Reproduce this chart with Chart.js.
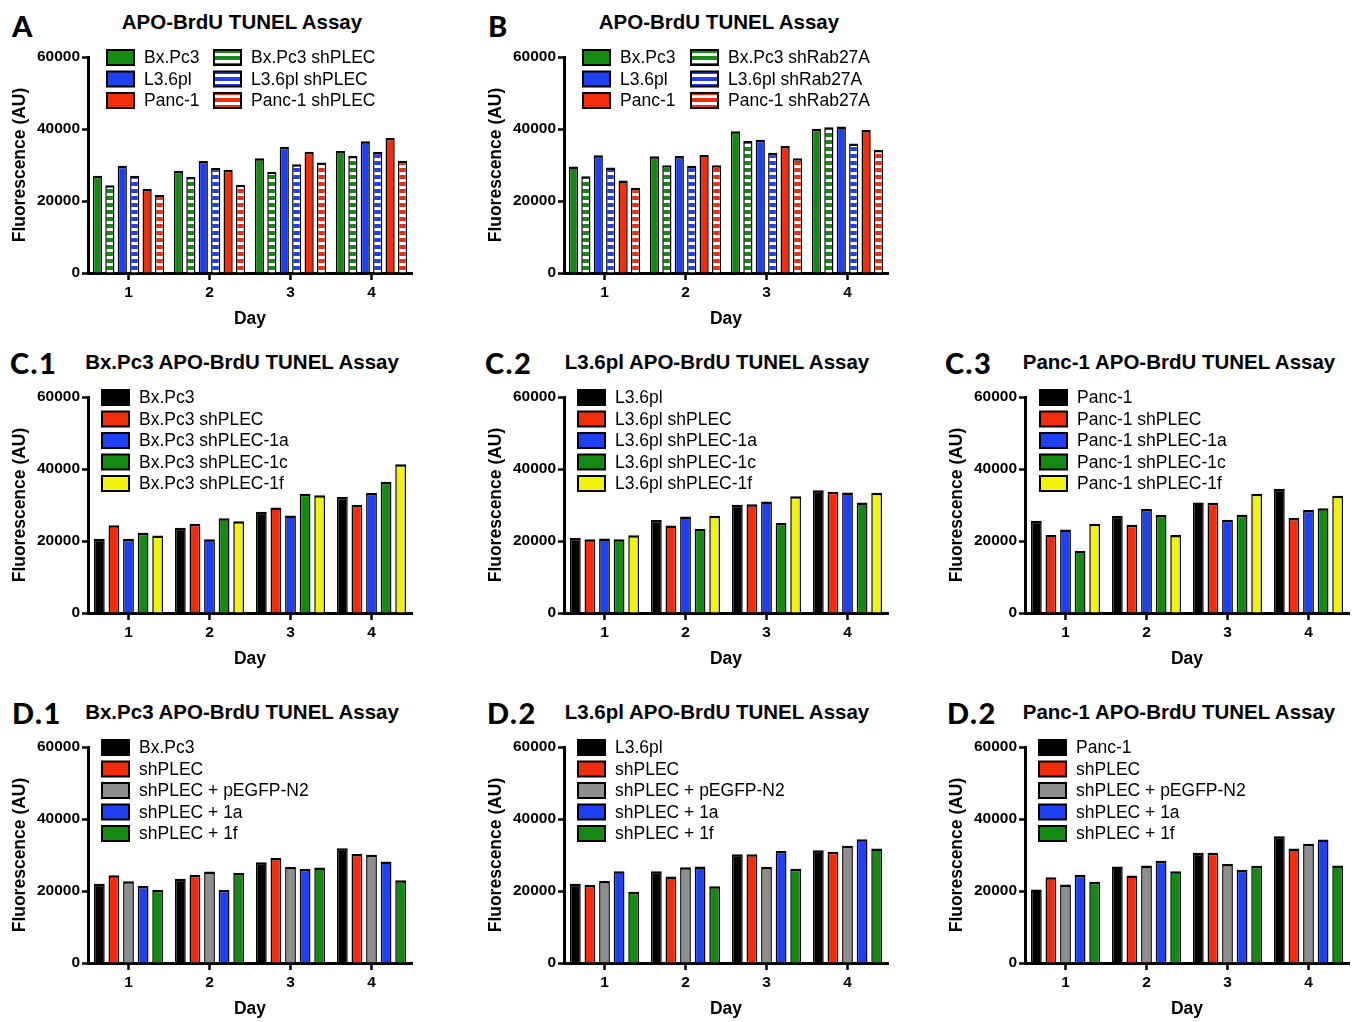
<!DOCTYPE html>
<html>
<head>
<meta charset="utf-8">
<script src="https://cdn.jsdelivr.net/npm/chart.js@4.4.0/dist/chart.umd.min.js"></script>
<style>
  body { margin: 0; background: #fff; width: 1362px; height: 1022px; position: relative; overflow: hidden;
         font-family: "Liberation Sans", Arial, sans-serif; }
  .letter { position: absolute; font-family: Lato, "Open Sans", sans-serif; font-weight: 900; font-size: 29px;
            letter-spacing: 1.5px; line-height: 1; transform: translateY(-50%); }
  .title { position: absolute; font-weight: 700; font-size: 20.5px; line-height: 1.15; white-space: nowrap;
           transform: translate(-50%, -50%); }
  canvas { position: absolute; }
</style>
</head>
<body>
<script>
const days = ['1', '2', '3', '4'];
const yTickValues = [0, 20000, 40000, 60000];

// A
const labelsA = ['Bx.Pc3', 'Bx.Pc3 shPLEC', 'L3.6pl', 'L3.6pl shPLEC', 'Panc-1', 'Panc-1 shPLEC'];
const valuesA = [
  [27000, 28300, 31900, 33900],
  [24400, 26700, 28100, 32500],
  [29800, 31100, 35100, 36600],
  [27000, 29200, 30200, 33600],
  [23300, 28700, 33700, 37500],
  [21700, 24500, 30700, 31200]
];

// B
const labelsB = ['Bx.Pc3', 'Bx.Pc3 shRab27A', 'L3.6pl', 'L3.6pl shRab27A', 'Panc-1', 'Panc-1 shRab27A'];
const valuesB = [
  [29600, 32400, 39400, 40100],
  [26900, 29900, 36700, 40500],
  [32700, 32500, 37000, 40700],
  [29300, 29800, 33400, 36000],
  [25700, 32800, 35300, 39700],
  [23700, 29900, 31900, 34200]
];

// C.1
const labelsC1 = ['Bx.Pc3', 'Bx.Pc3 shPLEC', 'Bx.Pc3 shPLEC-1a', 'Bx.Pc3 shPLEC-1c', 'Bx.Pc3 shPLEC-1f'];
const valuesC1 = [
  [20600, 23700, 28100, 32200],
  [24400, 24800, 29300, 30000],
  [20600, 20500, 27100, 33300],
  [22300, 26300, 33100, 36400],
  [21500, 25500, 32700, 41300]
];

// C.2
const labelsC2 = ['L3.6pl', 'L3.6pl shPLEC', 'L3.6pl shPLEC-1a', 'L3.6pl shPLEC-1c', 'L3.6pl shPLEC-1f'];
const valuesC2 = [
  [20800, 25800, 30100, 34100],
  [20500, 24300, 30200, 33700],
  [20700, 26800, 31000, 33500],
  [20500, 23300, 25000, 30700],
  [21600, 27000, 32400, 33400]
];

// C.3
const labelsC3 = ['Panc-1', 'Panc-1 shPLEC', 'Panc-1 shPLEC-1a', 'Panc-1 shPLEC-1c', 'Panc-1 shPLEC-1f'];
const valuesC3 = [
  [25600, 27000, 30700, 34500],
  [21700, 24500, 30600, 26400],
  [23200, 28900, 25900, 28600],
  [17200, 27200, 27300, 29100],
  [24800, 21700, 33100, 32600]
];

// D.1
const labelsD1 = ['Bx.Pc3', 'shPLEC', 'shPLEC + pEGFP-N2', 'shPLEC + 1a', 'shPLEC + 1f'];
const valuesD1 = [
  [22000, 23400, 28000, 31900],
  [24400, 24500, 29200, 30300],
  [22700, 25400, 26700, 30100],
  [21400, 20300, 26100, 28200],
  [20300, 25000, 26500, 23000]
];

// D.2 (L3.6pl)
const labelsD2 = ['L3.6pl', 'shPLEC', 'shPLEC + pEGFP-N2', 'shPLEC + 1a', 'shPLEC + 1f'];
const valuesD2 = [
  [22000, 25500, 30200, 31300],
  [21700, 24000, 30200, 30900],
  [22800, 26600, 26700, 32600],
  [25500, 26800, 31100, 34400],
  [19800, 21300, 26200, 31800]
];

// D.2 (Panc-1)
const labelsD3 = ['Panc-1', 'shPLEC', 'shPLEC + pEGFP-N2', 'shPLEC + 1a', 'shPLEC + 1f'];
const valuesD3 = [
  [20400, 26800, 30600, 35200],
  [23800, 24300, 30600, 31800],
  [21800, 27100, 27500, 33100],
  [24500, 28400, 25800, 34300],
  [22600, 25500, 27000, 27100]
];

const GREEN = '#138a12', BLUE = '#1e40f0', RED = '#f22d0c', YELLOW = '#f2f20c', GRAY = '#8e8e8e', BLACK = '#000000';

function stripes(color) {
  const c = document.createElement('canvas');
  c.width = 4; c.height = 7;
  const g = c.getContext('2d');
  g.fillStyle = color; g.fillRect(0, 0, 4, 7);
  g.fillStyle = '#fff'; g.fillRect(0, 2, 4, 3);
  return g.createPattern(c, 'repeat');
}

const fillsAB = [GREEN, stripes(GREEN), BLUE, stripes(BLUE), RED, stripes(RED)];
const fillsC = [BLACK, RED, BLUE, GREEN, YELLOW];
const fillsD = [BLACK, RED, GRAY, BLUE, GREEN];

const twoCols = { cols: [[0, 2, 4], [1, 3, 5]] };
const oneCol = { cols: [[0, 1, 2, 3, 4]] };

const panels = [
  { letter: 'A', lx: 12, ly: 25, title: 'APO-BrdU TUNEL Assay', tx: 242, ty: 22, ax: 88, ay: 57.3,
    labels: labelsA, values: valuesA, fills: fillsAB, legend: twoCols, colX: [19, 126] },
  { letter: 'B', lx: 488, ly: 25, title: 'APO-BrdU TUNEL Assay', tx: 719, ty: 22, ax: 564, ay: 57.3,
    labels: labelsB, values: valuesB, fills: fillsAB, legend: twoCols, colX: [19, 127] },
  { letter: 'C.1', lx: 10, ly: 362, title: 'Bx.Pc3 APO-BrdU TUNEL Assay', tx: 242, ty: 362, ax: 88, ay: 397.3,
    labels: labelsC1, values: valuesC1, fills: fillsC, legend: oneCol, colX: [14] },
  { letter: 'C.2', lx: 485, ly: 362, title: 'L3.6pl APO-BrdU TUNEL Assay', tx: 717, ty: 362, ax: 564, ay: 397.3,
    labels: labelsC2, values: valuesC2, fills: fillsC, legend: oneCol, colX: [14] },
  { letter: 'C.3', lx: 945, ly: 362, title: 'Panc-1 APO-BrdU TUNEL Assay', tx: 1179, ty: 362, ax: 1025, ay: 397.3,
    labels: labelsC3, values: valuesC3, fills: fillsC, legend: oneCol, colX: [15] },
  { letter: 'D.1', lx: 12, ly: 712, title: 'Bx.Pc3 APO-BrdU TUNEL Assay', tx: 242, ty: 712, ax: 88, ay: 747.3,
    labels: labelsD1, values: valuesD1, fills: fillsD, legend: oneCol, colX: [14] },
  { letter: 'D.2', lx: 487, ly: 712, title: 'L3.6pl APO-BrdU TUNEL Assay', tx: 717, ty: 712, ax: 564, ay: 747.3,
    labels: labelsD2, values: valuesD2, fills: fillsD, legend: oneCol, colX: [14] },
  { letter: 'D.2', lx: 947, ly: 712, title: 'Panc-1 APO-BrdU TUNEL Assay', tx: 1179, ty: 712, ax: 1025, ay: 747.3,
    labels: labelsD3, values: valuesD3, fills: fillsD, legend: oneCol, colX: [14] }
];

// legend drawn as boxes in columns, like the original figure
const boxLegend = {
  id: 'boxLegend',
  afterDraw(chart, args, opts) {
    const ctx = chart.ctx;
    const area = chart.chartArea;
    ctx.save();
    ctx.font = '17.5px "Liberation Sans", Arial, sans-serif';
    ctx.textBaseline = 'middle';
    opts.cols.forEach((idxs, c) => {
      idxs.forEach((di, r) => {
        const ds = chart.data.datasets[di];
        const bx = area.left + opts.colX[c];
        const cy = area.top + 0.5 + r * 21.5;
        ctx.fillStyle = ds.backgroundColor;
        ctx.fillRect(bx, cy - 7.5, 27, 15);
        ctx.lineWidth = 2;
        ctx.strokeStyle = '#000';
        ctx.strokeRect(bx, cy - 7.5, 27, 15);
        ctx.fillStyle = '#000';
        ctx.fillText(ds.label, bx + 37, cy + 1);
      });
    });
    ctx.restore();
  }
};

const YW = 88, PAD_TOP = 20, PAD_RIGHT = 10, XH = 61, PLOT_W = 324, PLOT_H = 216;

panels.forEach(p => {
  const lt = document.createElement('div');
  lt.className = 'letter';
  lt.style.left = p.lx + 'px';
  lt.style.top = p.ly + 'px';
  lt.textContent = p.letter;
  document.body.appendChild(lt);

  const tt = document.createElement('div');
  tt.className = 'title';
  tt.style.left = p.tx + 'px';
  tt.style.top = p.ty + 'px';
  tt.textContent = p.title;
  document.body.appendChild(tt);

  const cv = document.createElement('canvas');
  cv.width = YW + PLOT_W + PAD_RIGHT;
  cv.height = PAD_TOP + PLOT_H + XH;
  cv.style.left = (p.ax - YW) + 'px';
  cv.style.top = (p.ay - PAD_TOP) + 'px';
  document.body.appendChild(cv);

  const sixBars = p.labels.length === 6;

  new Chart(cv.getContext('2d'), {
    type: 'bar',
    data: {
      labels: days,
      datasets: p.labels.map((lab, i) => ({
        label: lab,
        data: p.values[i],
        backgroundColor: p.fills[i],
        borderColor: '#000',
        borderWidth: { top: 2.5, left: 1.5, right: 1.5, bottom: 0 }
      }))
    },
    options: {
      responsive: false,
      animation: false,
      events: [],
      layout: { padding: { top: PAD_TOP, right: PAD_RIGHT, bottom: 0, left: 0 } },
      datasets: { bar: { categoryPercentage: sixBars ? 0.92 : 0.9, barPercentage: 0.74 } },
      plugins: {
        legend: { display: false },
        tooltip: { enabled: false },
        boxLegend: { cols: p.legend.cols, colX: p.colX }
      },
      scales: {
        x: {
          grid: { offset: false, drawOnChartArea: false, tickLength: 7, tickColor: '#000', tickWidth: 2.5 },
          border: { color: '#000', width: 3 },
          ticks: { color: '#000', font: { size: 15.5, weight: 'bold' }, padding: 3 },
          title: { display: true, text: 'Day', color: '#000', font: { size: 17.5, weight: 'bold' }, padding: { top: 4, bottom: 4 } },
          afterFit(s) { s.height = XH; }
        },
        y: {
          min: 0,
          max: 60000,
          afterBuildTicks(s) { s.ticks = yTickValues.map(v => ({ value: v })); },
          grid: { drawOnChartArea: false, tickLength: 6, tickColor: '#000', tickWidth: 2.5 },
          border: { color: '#000', width: 3 },
          ticks: { color: '#000', font: { size: 15.5, weight: 'bold' }, padding: 2, callback: v => String(v) },
          title: { display: true, text: 'Fluorescence (AU)', color: '#000', font: { size: 17.5, weight: 'bold' }, padding: { top: 10, bottom: 4 } },
          afterFit(s) { s.width = YW; }
        }
      }
    },
    plugins: [boxLegend]
  });
});
</script>
</body>
</html>
